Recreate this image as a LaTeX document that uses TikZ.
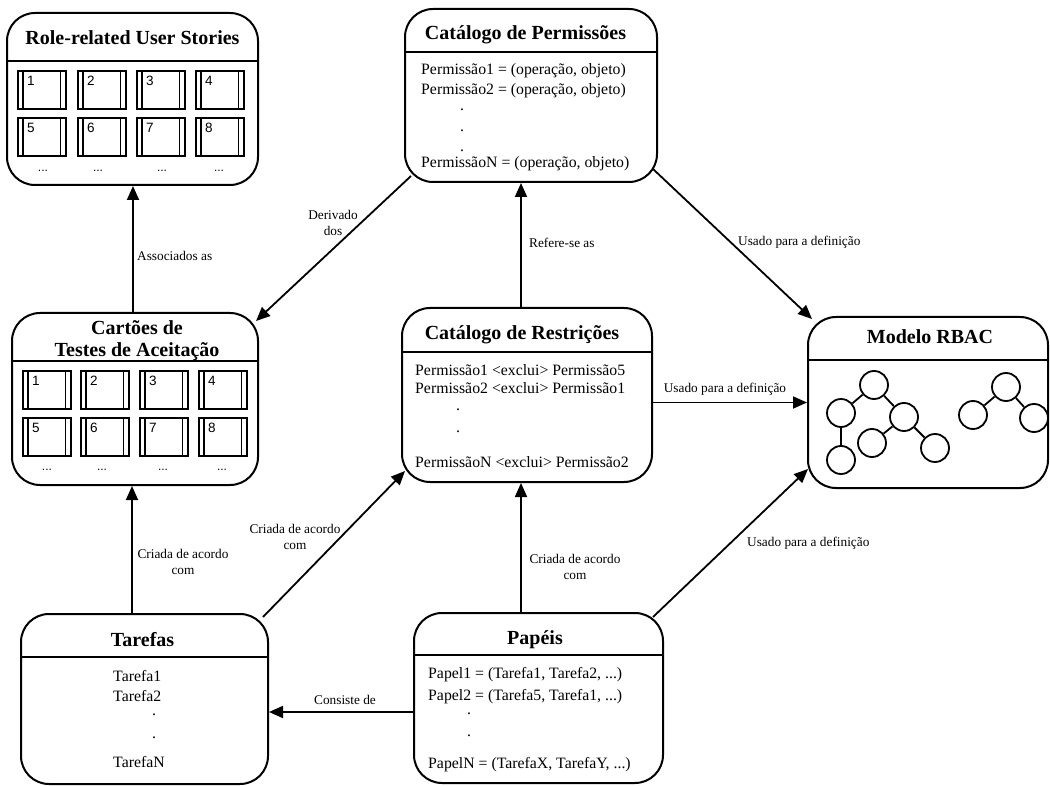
\documentclass[tikz,border=0pt]{standalone}
\usepackage{fontspec}
\setmainfont{Liberation Serif}
\newfontfamily\cardfont{Liberation Sans}
\usetikzlibrary{arrows.meta,calc}
\begin{document}
\begin{tikzpicture}[x=1pt,y=1pt,
 box/.style={draw, line width=2pt, rounded corners=28pt, inner sep=0pt},
 sepline/.style={line width=2pt},
 ttl/.style={font=\fontsize{20}{23}\selectfont\bfseries, inner sep=0pt, anchor=base},
 body/.style={font=\fontsize{15.8}{19}\selectfont, inner sep=0pt, anchor=base west},
 dotn/.style={font=\fontsize{15.8}{19}\selectfont, inner sep=0pt, anchor=base},
 lbl/.style={font=\fontsize{13.3}{16}\selectfont, inner sep=0pt},
 arr/.style={line width=1.8pt, -{Triangle[length=14pt,width=12pt]}},
 card/.style={draw, line width=1.6pt, minimum width=48pt, minimum height=38pt, inner sep=0pt},
 cardline/.style={line width=1.6pt},
 num/.style={font=\cardfont\fontsize{13.5}{15}\selectfont, inner sep=0pt, anchor=north west},
 ell/.style={font=\cardfont\fontsize{12}{14}\selectfont, inner sep=0pt, anchor=base},
 vtx/.style={draw, circle, line width=1.8pt, minimum size=28pt, inner sep=0pt},
 edge/.style={line width=1.8pt},
]
\useasboundingbox (0,0) rectangle (1050,-786);

% ---------- boxes ----------
\node[box, minimum width=251pt, minimum height=172pt] (rrus) at (132.5,-99) {};
\node[box, minimum width=252pt, minimum height=173pt] (perm) at (531,-95.5) {};
\node[box, minimum width=246pt, minimum height=172pt] (cart) at (135,-399) {};
\node[box, minimum width=250pt, minimum height=174pt] (restr) at (527,-395) {};
\node[box, minimum width=240pt, minimum height=171pt] (rbac) at (928,-402.5) {};
\node[box, minimum width=247pt, minimum height=170pt] (tar) at (144.5,-699) {};
\node[box, minimum width=249pt, minimum height=170pt] (pap) at (538.5,-698) {};

% separators
\draw[sepline] (rrus.west |- 0,-61) -- (rrus.east |- 0,-61);
\draw[sepline] (perm.west |- 0,-52) -- (perm.east |- 0,-52);
\draw[sepline] (cart.west |- 0,-361) -- (cart.east |- 0,-361);
\draw[sepline] (restr.west |- 0,-352) -- (restr.east |- 0,-352);
\draw[sepline] (rbac.west |- 0,-360) -- (rbac.east |- 0,-360);
\draw[sepline] (tar.west |- 0,-657) -- (tar.east |- 0,-657);
\draw[sepline] (pap.west |- 0,-655) -- (pap.east |- 0,-655);

% titles
\node[ttl] (trrus) at (132.5,-45) {Role-related User Stories};
\node[ttl] (tperm) at (525.5,-40) {Catálogo de Permissões};
\node[ttl] (tcart1) at (137,-335) {Cartões de};
\node[ttl] (tcart2) at (137,-357) {Testes de Aceitação};
\node[ttl] (trestr) at (522,-340) {Catálogo de Restrições};
\node[ttl] (trbac) at (930,-344) {Modelo RBAC};
\node[ttl] (ttar) at (142.5,-646) {Tarefas};
\node[ttl] (tpap) at (535,-644) {Papéis};

% permissoes text
\node[body] (p1) at (421,-75) {Permissão1 = (operação, objeto)};
\node[body] (p2) at (421,-95) {Permissão2 = (operação, objeto)};
\node[dotn] (pd1) at (462,-110.5) {.};
\node[dotn] (pd2) at (462,-132) {.};
\node[dotn] (pd3) at (462,-152) {.};
\node[body] (pN) at (421,-168) {PermissãoN = (operação, objeto)};

% restricoes text
\node[body] (r1) at (415,-375) {Permissão1 <exclui> Permissão5};
\node[body] (r2) at (415,-394) {Permissão2 <exclui> Permissão1};
\node[dotn] (rd1) at (458,-410.5) {.};
\node[dotn] (rd2) at (458,-432) {.};
\node[body] (rN) at (415,-467) {PermissãoN <exclui> Permissão2};

% tarefas text
\node[body] (t1) at (113,-681) {Tarefa1};
\node[body] (t2) at (113,-701) {Tarefa2};
\node[dotn] (td1) at (154,-715.5) {.};
\node[dotn] (td2) at (154,-738) {.};
\node[body] (tN) at (113,-767) {TarefaN};

% papeis text
\node[body] (pa1) at (428,-678) {Papel1 = (Tarefa1, Tarefa2, ...)};
\node[body] (pa2) at (428,-700) {Papel2 = (Tarefa5, Tarefa1, ...)};
\node[dotn] (pad1) at (469,-714) {.};
\node[dotn] (pad2) at (469,-736) {.};
\node[body] (paN) at (428,-768) {PapelN = (TarefaX, TarefaY, ...)};

% ---------- cards: user stories ----------
\foreach \rw/\ty in {0/70,1/117}{
 \foreach \cl/\lx in {1/17,2/77,3/136,4/195}{
  \pgfmathtruncatemacro\nn{\rw*4+\cl}
  \node[card, anchor=north west] (ru\nn) at (\lx,-\ty) {};
  \draw[cardline] ([xshift=6pt]ru\nn.north west) -- ([xshift=6pt]ru\nn.south west)
                  ([xshift=-6pt]ru\nn.north east) -- ([xshift=-6pt]ru\nn.south east);
  \node[num] (run\nn) at ([shift={(10pt,-6pt)}]ru\nn.north west) {\nn};
 }}
\foreach \cl/\lx in {1/43,2/98,3/162,4/219}{
  \node[ell] (rue\cl) at (\lx,-172) {...};
}

% ---------- cards: acceptance tests ----------
\foreach \rw/\ty in {0/370,1/417}{
 \foreach \cl/\lx in {1/22,2/80,3/139,4/198}{
  \pgfmathtruncatemacro\nn{\rw*4+\cl}
  \node[card, anchor=north west] (ca\nn) at (\lx,-\ty) {};
  \draw[cardline] ([xshift=6pt]ca\nn.north west) -- ([xshift=6pt]ca\nn.south west)
                  ([xshift=-6pt]ca\nn.north east) -- ([xshift=-6pt]ca\nn.south east);
  \node[num] (can\nn) at ([shift={(10pt,-6pt)}]ca\nn.north west) {\nn};
 }}
\foreach \cl/\lx in {1/47,2/102,3/163,4/222}{
  \node[ell] (cae\cl) at (\lx,-470) {...};
}

% ---------- RBAC trees ----------
\node[vtx] (v1) at (874,-385) {};
\node[vtx] (v2) at (841,-413) {};
\node[vtx] (v3) at (904,-417) {};
\node[vtx] (v4) at (872,-443) {};
\node[vtx] (v5) at (935,-448) {};
\node[vtx] (v6) at (841,-460) {};
\node[vtx] (v7) at (1006,-387) {};
\node[vtx] (v8) at (973,-415) {};
\node[vtx] (v9) at (1034,-418) {};
\draw[edge] (v1) -- (v2);
\draw[edge] (v1) -- (v3);
\draw[edge] (v3) -- (v4);
\draw[edge] (v3) -- (v5);
\draw[edge] (v2) -- (v6);
\draw[edge] (v7) -- (v8);
\draw[edge] (v7) -- (v9);

% ---------- connectors ----------
\draw[arr] ([xshift=-2pt]cart.north) -- ([xshift=-2pt]cart.north |- rrus.south);
\draw[arr] ([shift={(7pt,7pt)}]perm.south west) -- ([shift={(-3pt,-9pt)}]cart.north east);
\draw[arr] ([xshift=-6pt]restr.north) -- ([xshift=-6pt]restr.north |- perm.south);
\draw[arr] ([shift={(-5pt,14pt)}]perm.south east) -- ([shift={(5pt,-3pt)}]rbac.north west);
\draw[arr] (restr.east |- rbac.west) -- (rbac.west);
\draw[arr] ([xshift=-3pt]cart.south |- tar.north) -- ([xshift=-3pt]cart.south);
\draw[arr] ([shift={(-6pt,-4pt)}]tar.north east) -- ([shift={(4pt,12pt)}]restr.south west);
\draw[arr] ([xshift=-6pt]restr.south |- pap.north) -- ([xshift=-6pt]restr.south);
\draw[arr] ([shift={(-11pt,-5pt)}]pap.north east) -- ([shift={(1pt,20pt)}]rbac.south west);
\draw[arr] ([yshift=-14pt]pap.west) -- ([yshift=-14pt]pap.west -| tar.east);

% ---------- labels ----------
\node[lbl, anchor=west] (lAssoc) at (137,-256) {Associados as};
\node[lbl, align=center] (lDeriv) at (333,-223) {Derivado\\dos};
\node[lbl, anchor=west] (lRef) at (529,-243) {Refere-se as};
\node[lbl, anchor=west] (lUsado1) at (738,-242) {Usado para a definição};
\node[lbl] (lUsado2) at (725,-389) {Usado para a definição};
\node[lbl, align=center] (lCri1) at (183,-562) {Criada de acordo\\com};
\node[lbl, align=center] (lCri2) at (295,-537) {Criada de acordo\\com};
\node[lbl, align=center] (lCri3) at (575,-567) {Criada de acordo\\com};
\node[lbl, anchor=west] (lUsado3) at (747,-543) {Usado para a definição};
\node[lbl] (lCons) at (345,-700) {Consiste de};
\end{tikzpicture}
\end{document}
